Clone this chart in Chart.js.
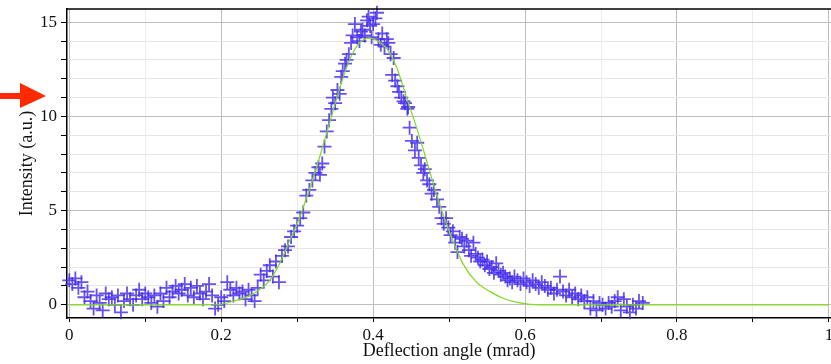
<!DOCTYPE html>
<html><head><meta charset="utf-8">
<script src="https://cdn.jsdelivr.net/npm/chart.js@4/dist/chart.umd.min.js"></script>
<style>html,body{margin:0;padding:0;background:#fff;overflow:hidden;width:831px;height:364px}canvas{display:block}</style>
</head><body>
<canvas id="c" width="840" height="364"></canvas>
<script>
// measured intensity (crosses)
const measX = [
0.000,0.004,0.008,0.012,0.016,0.020,0.024,0.028,0.032,0.036,0.040,0.044,0.048,0.052,0.056,0.060,0.064,0.068,0.072,0.076,
0.080,0.084,0.088,0.092,0.096,0.100,0.104,0.108,0.112,0.116,0.120,0.124,0.128,0.132,0.136,0.140,0.144,0.148,0.152,0.156,
0.160,0.164,0.168,0.172,0.176,0.180,0.184,0.188,0.192,0.196,0.200,
0.204,0.208,0.212,0.216,0.220,0.224,0.228,0.232,0.236,0.240,0.244,0.248,0.252,0.256,0.260,0.264,0.268,0.272,0.276,0.280,
0.284,0.288,0.292,0.296,0.300,0.304,0.308,0.312,0.316,0.320,0.324,0.328,
0.330,0.333,0.336,0.339,0.342,0.345,0.347,0.350,0.353,0.356,0.358,0.360,0.363,0.365,0.368,0.371,0.373,0.376,0.379,0.382,
0.384,0.386,0.389,0.392,0.394,0.396,0.398,0.400,0.403,0.405,0.407,0.410,0.412,0.415,0.418,0.420,0.423,0.425,0.427,0.429,
0.432,0.434,0.437,0.440,0.442,0.445,0.446,
0.448,0.451,0.455,0.458,0.460,0.463,0.466,0.468,0.471,0.474,0.477,0.480,0.484,0.487,0.490,0.493,0.496,0.499,0.502,0.505,
0.508,0.511,0.514,0.517,0.520,0.523,0.526,0.529,0.532,0.535,0.538,0.541,0.544,0.547,0.550,0.553,0.556,0.559,0.562,0.565,
0.568,0.571,0.574,0.577,0.580,0.583,0.586,
0.590,0.594,0.598,0.602,0.606,0.610,0.614,0.618,0.622,0.626,0.630,0.634,0.638,0.642,0.646,0.650,0.654,0.658,0.662,0.666,
0.670,0.674,0.678,0.682,0.686,0.690,0.694,0.698,0.702,0.706,0.710,0.714,0.718,0.722,0.726,0.730,0.734,0.738,0.742,0.746,
0.750,0.755
];
const measY = [
1.3,1.1,1.4,0.9,1.2,0.4,0.7,0.2,-0.2,0.5,0.1,-0.3,0.6,0.3,0.4,0.0,0.5,-0.4,0.2,0.6,
0.3,0.0,0.5,0.8,0.3,0.6,0.4,0.1,0.5,-0.1,0.6,0.2,0.9,0.4,0.7,1.0,0.6,0.8,1.1,0.5,
0.9,0.4,1.0,0.6,0.3,0.7,1.1,0.5,-0.2,0.0,0.4,
0.2,1.2,0.8,0.5,0.9,0.6,0.7,0.3,0.8,0.5,0.2,0.9,1.6,1.3,1.8,2.1,1.5,2.3,1.2,2.6,
2.9,3.1,3.6,3.9,4.2,4.6,4.9,5.8,6.1,6.6,7.0,7.3,
6.9,7.5,8.4,9.2,9.8,10.4,11.0,10.7,11.4,11.2,12.1,12.4,12.8,13.0,13.3,13.9,14.3,14.9,14.2,14.0,
14.5,14.6,14.3,15.1,15.3,14.8,14.2,14.9,15.2,15.5,14.1,13.8,14.4,13.7,14.1,13.9,13.3,12.2,13.1,11.9,
11.6,11.3,11.0,10.8,10.7,10.4,10.5,
9.4,8.7,8.2,8.6,7.8,7.4,7.0,7.2,6.6,6.4,5.9,6.1,5.6,5.2,4.6,4.3,4.6,4.1,3.7,3.9,
3.3,2.8,3.6,3.5,3.1,3.4,2.9,2.6,3.3,2.7,2.5,2.3,2.4,2.1,2.3,1.9,2.0,1.7,2.2,1.8,
1.6,1.7,1.5,1.3,1.4,1.2,1.5,
1.3,1.1,1.4,1.2,1.0,1.3,1.1,0.9,1.2,1.0,0.8,0.9,0.6,0.8,1.5,0.7,0.5,0.8,0.4,0.6,
0.3,0.5,0.2,0.4,-0.2,0.2,-0.3,0.1,0.0,-0.2,0.1,-0.1,0.2,0.4,-0.3,0.3,-0.1,-0.4,0.0,-0.2,
0.2,0.1
];
// fitted curve (green)
const fitX = [0,0.18,0.20,0.212,0.238,0.264,0.277,0.29,0.30,0.31,0.32,0.33,0.343,0.356,0.369,0.382,0.395,0.408,0.418,0.431,0.444,0.458,0.47,0.481,0.492,0.505,0.518,0.536,0.554,0.571,0.593,0.62,1.0];
const fitY = [0,0,0.03,0.15,0.5,1.3,2.2,3.4,4.3,5.4,6.6,7.9,9.7,11.5,13.0,13.9,14.15,13.95,13.6,12.6,11.0,9.3,7.7,6.2,4.8,3.4,2.2,1.2,0.7,0.35,0.1,0.0,0.0];
// axis ticks
const xTickValues = [0,0.1,0.2,0.3,0.4,0.5,0.6,0.7,0.8,0.9,1.0];
const xTickLabels = ['0','','0.2','','0.4','','0.6','','0.8','','1'];
const yTickValues = [0,1,2,3,4,5,6,7,8,9,10,11,12,13,14,15];
const yTickLabels = ['0','','','','','5','','','','','10','','','','','15'];

const measPts = measX.map((x,i)=>({x:x,y:measY[i]}));
const fitPts = fitX.map((x,i)=>({x:x,y:fitY[i]}));

const extras = {
  id:'extras',
  afterDraw(chart){
    const ctx = chart.ctx, a = chart.chartArea;
    ctx.save();
    ctx.strokeStyle = '#000'; ctx.lineWidth = 1.5;
    ctx.beginPath(); ctx.moveTo(a.left, a.top); ctx.lineTo(chart.width, a.top); ctx.stroke();
    // red arrow annotation
    ctx.fillStyle = '#ff2a00';
    ctx.beginPath();
    ctx.moveTo(0, 93); ctx.lineTo(20, 93); ctx.lineTo(20, 83); ctx.lineTo(46, 96);
    ctx.lineTo(20, 108); ctx.lineTo(20, 99); ctx.lineTo(0, 99); ctx.closePath(); ctx.fill();
    ctx.restore();
  }
};

const serif = "'Liberation Serif', 'Times New Roman', serif";
new Chart(document.getElementById('c'), {
  type:'scatter',
  data:{datasets:[
    {type:'line', data:fitPts, borderColor:'#80dc1c', borderWidth:1.2, pointRadius:0, fill:false, cubicInterpolationMode:'monotone'},
    {data:measPts, pointStyle:'cross', pointRadius:7, pointBorderWidth:1.8, borderColor:'rgba(68,44,236,0.82)', backgroundColor:'rgba(68,44,236,0.82)', showLine:false, clip:false}
  ]},
  options:{
    responsive:false, animation:false, devicePixelRatio:1,
    layout:{padding:{top:9,left:16,right:0,bottom:0}},
    plugins:{legend:{display:false}, tooltip:{enabled:false}},
    scales:{
      x:{type:'linear', min:-0.003, max:1.003,
        afterBuildTicks(s){ s.ticks = xTickValues.map(v=>({value:v})); },
        afterFit(s){ s.height = 46; },
        ticks:{autoSkip:false, maxRotation:0, padding:3, color:'#111', font:{family:serif, size:17},
          callback:(v,i)=>xTickLabels[i]},
        grid:{color:(c)=> (c.index%2===0 ? '#bdbdbd' : '#ececec'), lineWidth:1, tickLength:4, tickColor:'#000'},
        border:{color:'#000', width:1.5},
        title:{display:true, text:'Deflection angle (mrad)', color:'#111', font:{family:serif, size:18}, padding:{top:0,bottom:2}}
      },
      y:{type:'linear', min:-0.7, max:15.7,
        afterBuildTicks(s){ s.ticks = yTickValues.map(v=>({value:v})); },
        afterFit(s){ s.width = 51; s.paddingTop = 0; s.paddingBottom = 0; },
        ticks:{autoSkip:false, padding:4, color:'#111', font:{family:serif, size:17},
          callback:(v,i)=>yTickLabels[i]},
        grid:{color:(c)=> (c.index%5===0 ? '#bdbdbd' : '#e6e6e6'), lineWidth:1, tickLength:6, tickColor:'#000'},
        border:{color:'#000', width:1.5},
        title:{display:true, text:'Intensity (a.u.)', color:'#111', font:{family:serif, size:18}, padding:{top:0,bottom:0}}
      }
    }
  },
  plugins:[extras]
});
</script>
</body></html>
